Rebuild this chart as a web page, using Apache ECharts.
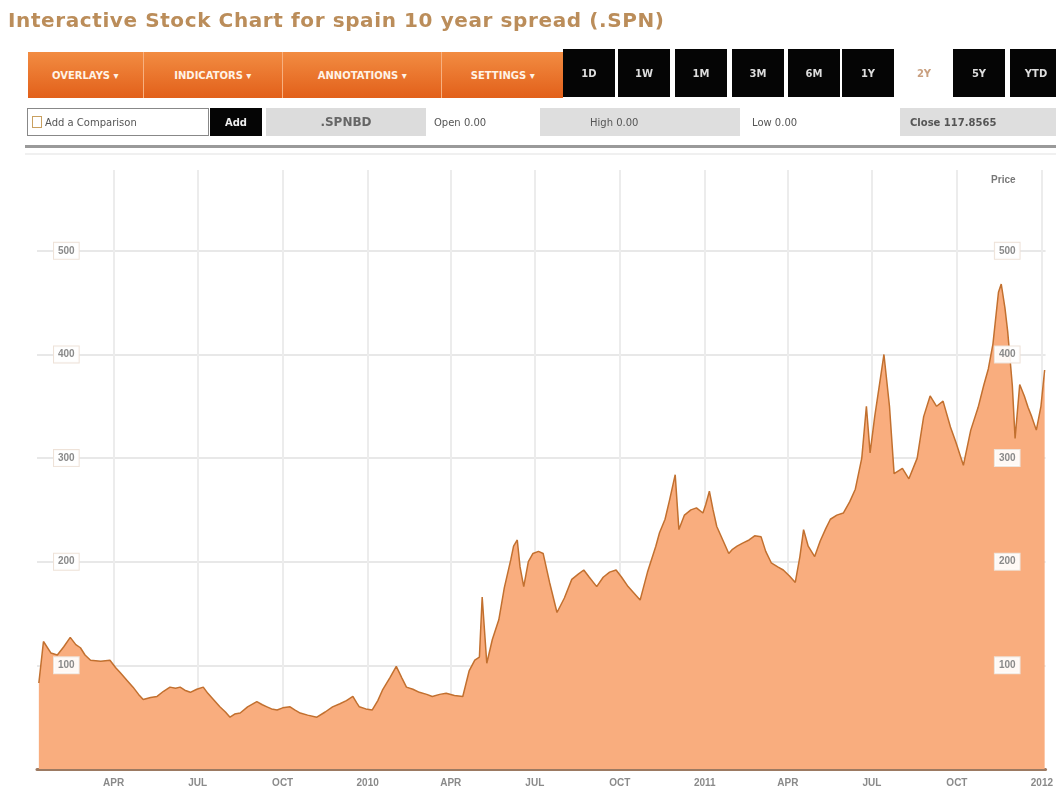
<!DOCTYPE html>
<html>
<head>
<meta charset="utf-8">
<script src="https://cdn.jsdelivr.net/npm/echarts@6/dist/echarts.min.js"></script>
<style>
  html,body{margin:0;padding:0;background:#fff;width:1056px;height:802px;overflow:hidden;font-family:"DejaVu Sans",Verdana,sans-serif;}
  #chart{position:absolute;left:0;top:0;width:1056px;height:802px;}
  .ov{position:absolute;z-index:5;}
  #title{left:8px;top:8px;font-size:20px;letter-spacing:0.6px;font-weight:bold;color:#bb8d5a;white-space:nowrap;}
  #orange{left:28px;top:52px;width:535px;height:46px;background:linear-gradient(#f28c42,#e2601a);display:flex;}
  #orange div{color:#fff3e6;font-size:10px;font-weight:bold;display:flex;align-items:center;justify-content:center;border-right:1px solid #f7b080;}
  .btn{position:absolute;z-index:5;top:49px;height:48px;width:52px;background:#050505;color:#ddd;font-size:10px;font-weight:bold;display:flex;align-items:center;justify-content:center;}
  .btn.sel{background:#fff;color:#c9a080;}
  #row2{left:0;top:108px;width:1056px;height:30px;}
  .cell{position:absolute;top:0;height:28px;display:flex;align-items:center;font-size:10px;color:#555;white-space:nowrap;}
  #rule{left:25px;top:145px;width:1031px;height:3px;background:#9a9a9a;}
  #rule2{left:25px;top:153px;width:1031px;height:2px;background:#f0f0f0;}
</style>
</head>
<body>
<div id="chart"></div>
<div class="ov" id="title">Interactive Stock Chart for spain 10 year spread (.SPN)</div>
<div class="ov" id="orange">
  <div style="width:115px">OVERLAYS ▾</div>
  <div style="width:139px">INDICATORS ▾</div>
  <div style="width:159px">ANNOTATIONS ▾</div>
  <div style="width:121px;border-right:none">SETTINGS ▾</div>
</div>
<div id="btns"></div>
<div class="ov" id="row2">
  <div class="cell" style="left:27px;width:182px;border:1px solid #888;box-sizing:border-box;background:#fff;padding-left:4px;"><span style="display:inline-block;width:8px;height:10px;border:1px solid #c9a060;margin-right:3px;"></span>Add a Comparison</div>
  <div class="cell" style="left:210px;width:52px;background:#050505;color:#eee;font-weight:bold;justify-content:center;">Add</div>
  <div class="cell" style="left:266px;width:160px;background:#dcdcdc;justify-content:center;font-weight:bold;font-size:12px;color:#666;">.SPNBD</div>
  <div class="cell" style="left:434px;width:100px;">Open 0.00</div>
  <div class="cell" style="left:540px;width:200px;background:#dedede;padding-left:50px;box-sizing:border-box;">High 0.00</div>
  <div class="cell" style="left:752px;width:120px;">Low 0.00</div>
  <div class="cell" style="left:900px;width:156px;background:#dedede;padding-left:10px;box-sizing:border-box;font-weight:bold;">Close 117.8565</div>
</div>
<div class="ov" id="rule"></div>
<div class="ov" id="rule2"></div>
<script>
// ---- data ----
const dates = [
 '2009-01-10','2009-01-15','2009-01-23','2009-01-30','2009-02-06','2009-02-13','2009-02-19','2009-02-24','2009-03-01','2009-03-07',
 '2009-03-18','2009-03-28','2009-04-03','2009-04-08','2009-04-16','2009-04-22','2009-04-28','2009-05-03','2009-05-11','2009-05-18',
 '2009-05-25','2009-06-01','2009-06-07','2009-06-12','2009-06-17','2009-06-23','2009-06-30','2009-07-07','2009-07-12','2009-07-18',
 '2009-07-25','2009-07-31','2009-08-05','2009-08-10','2009-08-16','2009-08-24','2009-09-03','2009-09-09','2009-09-14','2009-09-19',
 '2009-09-25','2009-10-01','2009-10-09','2009-10-14','2009-10-20','2009-10-28','2009-11-07','2009-11-16','2009-11-24','2009-12-02',
 '2009-12-09','2009-12-16','2009-12-20','2009-12-23','2009-12-30','2010-01-06','2010-01-12','2010-01-17','2010-01-25','2010-02-01',
 '2010-02-07','2010-02-12','2010-02-19','2010-02-26','2010-03-06','2010-03-12','2010-03-20','2010-03-27','2010-04-05','2010-04-14',
 '2010-04-21','2010-04-27','2010-05-02','2010-05-05','2010-05-10','2010-05-16','2010-05-23','2010-05-29','2010-06-05','2010-06-08',
 '2010-06-12','2010-06-15','2010-06-19','2010-06-24','2010-06-29','2010-07-05','2010-07-10','2010-07-17','2010-07-25','2010-08-02',
 '2010-08-10','2010-08-17','2010-08-23','2010-08-29','2010-09-06','2010-09-13','2010-09-20','2010-09-27','2010-10-03','2010-10-10',
 '2010-10-16','2010-10-23','2010-10-31','2010-11-09','2010-11-13','2010-11-19','2010-11-24','2010-11-30','2010-12-04','2010-12-10',
 '2010-12-17','2010-12-23','2010-12-30','2011-01-02','2011-01-06','2011-01-10','2011-01-14','2011-01-21','2011-01-27','2011-01-31',
 '2011-02-05','2011-02-11','2011-02-18','2011-02-24','2011-03-03','2011-03-08','2011-03-14','2011-03-21','2011-03-27','2011-04-03',
 '2011-04-09','2011-04-14','2011-04-18','2011-04-23','2011-04-30','2011-05-06','2011-05-12','2011-05-17','2011-05-24','2011-05-31',
 '2011-06-07','2011-06-13','2011-06-20','2011-06-25','2011-06-29','2011-07-04','2011-07-09','2011-07-14','2011-07-20','2011-07-25',
 '2011-08-03','2011-08-10','2011-08-19','2011-08-26','2011-09-02','2011-09-09','2011-09-16','2011-09-24','2011-09-30','2011-10-08',
 '2011-10-16','2011-10-24','2011-10-30','2011-11-04','2011-11-09','2011-11-15','2011-11-18','2011-11-22','2011-11-25','2011-11-30',
 '2011-12-03','2011-12-08','2011-12-13','2011-12-17','2011-12-21','2011-12-26','2011-12-31','2012-01-04'
];
const spread = [
 83,123,112,110,118,127,120,117,110,105,
 104,105,98,93,85,79,72,67,69,70,
 75,79,78,79,76,74,77,79,73,67,
 60,55,50,53,54,60,65,62,60,58,
 57,59,60,57,54,52,50,55,60,63,
 66,70,64,60,58,57,66,76,88,99,
 88,79,77,74,72,70,72,73,71,70,
 95,105,108,166,102,125,144,175,202,215,
 221,195,176,200,208,210,208,180,151,165,
 183,188,192,185,176,185,190,192,185,176,
 170,163,190,215,228,241,260,284,231,245,
 250,252,247,255,268,250,234,220,208,212,
 215,218,221,225,224,210,199,195,192,186,
 180,205,231,215,205,220,232,241,245,247,
 258,270,300,350,305,340,370,400,350,285,
 290,280,300,340,360,350,355,330,315,293,
 327,349,370,386,410,460,468,445,422,370,
 319,371,360,349,340,327,350,385
];
const yTicks = [100, 200, 300, 400, 500];
const monthNames = ['JAN','FEB','MAR','APR','MAY','JUN','JUL','AUG','SEP','OCT','NOV','DEC'];

const DAY = 86400000;
const chart = echarts.init(document.getElementById('chart'), null, {renderer:'canvas'});
const yLabel = {
  inside: true, color: '#8a8a8a', fontSize: 10, fontWeight: 'bold',
  backgroundColor: 'rgba(255,255,255,0.92)', padding: [3, 4], borderColor: '#eee2d8', borderWidth: 1,
  showMinLabel: false, showMaxLabel: false,
  formatter: v => yTicks.includes(v) ? String(v) : ''
};
chart.setOption({
  animation: false,
  grid: {left: 37, right: 8, top: 170, bottom: 33},
  xAxis: {
    type: 'time',
    min: '2009-01-08', max: '2012-01-05',
    splitNumber: 12,
    minInterval: 80 * DAY, maxInterval: 100 * DAY,
    axisLine: {lineStyle: {color: '#9c7a62', width: 3}},
    axisTick: {show: false},
    splitLine: {show: true, showMinLine: false, showMaxLine: false, lineStyle: {color: '#ececec', width: 2}},
    axisLabel: {
      color: '#8a8a8a', fontSize: 10, fontWeight: 'bold', margin: 9,
      showMinLabel: false,
      formatter: function (val) {
        const d = new Date(val);
        const m = d.getMonth();
        return m === 0 ? String(d.getFullYear()) : monthNames[m];
      }
    }
  },
  yAxis: [
    {
      // grid lines only, drawn beneath the area
      type: 'value', min: 0, max: 578, interval: 100, position: 'left', z: 0,
      axisLine: {show: false}, axisTick: {show: false}, axisLabel: {show: false},
      splitLine: {showMinLine: false, showMaxLine: false, lineStyle: {color: '#e8e8e8', width: 2}}
    },
    {
      type: 'value', min: 0, max: 578, interval: 100, position: 'left', z: 10,
      axisLine: {show: false}, axisTick: {show: false}, splitLine: {show: false},
      axisLabel: Object.assign({margin: 17}, yLabel)
    },
    {
      type: 'value', min: 0, max: 578, interval: 100, position: 'right', z: 10,
      name: 'Price', nameLocation: 'end', nameGap: -10,
      nameTextStyle: {color: '#777', fontSize: 10, fontWeight: 'bold', align: 'right', verticalAlign: 'middle', padding: [0, 30, 0, 0]},
      axisLine: {show: false}, axisTick: {show: false}, splitLine: {show: false},
      axisLabel: Object.assign({margin: 26}, yLabel)
    }
  ],
  series: [{
    type: 'line',
    z: 2,
    yAxisIndex: 0,
    data: dates.map((d, i) => [d, spread[i]]),
    showSymbol: false,
    lineStyle: {color: '#c2702f', width: 1.5},
    areaStyle: {color: '#f9ad7e', opacity: 1}
  }]
});

// toolbar buttons
const ranges = ['1D','1W','1M','3M','6M','1Y','2Y','5Y','YTD'];
const btnLeft = [563, 618, 675, 732, 788, 842, 898, 953, 1010];
const host = document.getElementById('btns');
ranges.forEach((r, i) => {
  const b = document.createElement('div');
  b.className = 'btn' + (r === '2Y' ? ' sel' : '');
  b.style.left = btnLeft[i] + 'px';
  b.textContent = r;
  host.appendChild(b);
});
</script>
</body>
</html>
